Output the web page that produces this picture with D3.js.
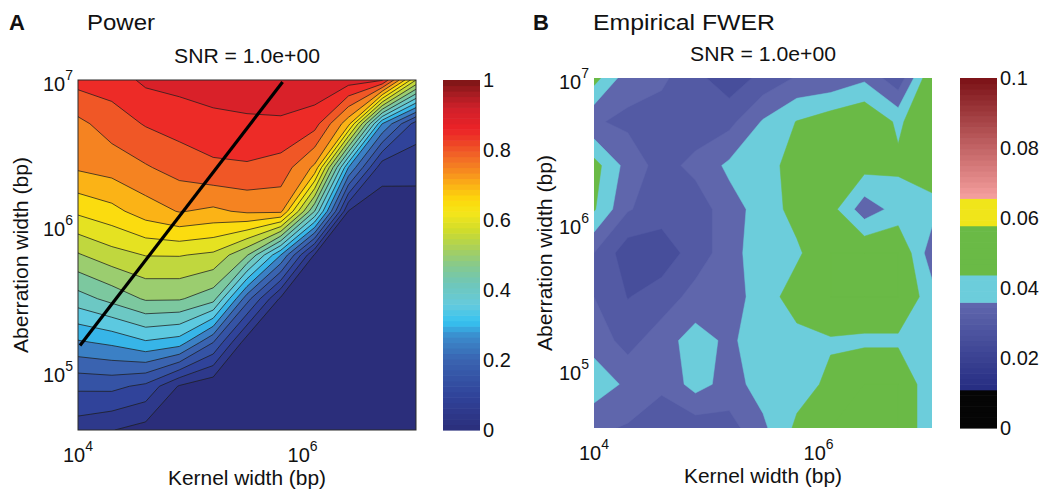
<!DOCTYPE html>
<html><head><meta charset="utf-8">
<script src="https://cdn.jsdelivr.net/npm/d3@7"></script>
<style>body{margin:0;background:#fff}svg{display:block;font-family:"Liberation Sans",Arial,Helvetica,sans-serif}</style>
</head><body><svg id="c" width="1043" height="490"></svg>
<script>
// ---------------- data ----------------
const kernelWidths = [1e4, 2e4, 4e4, 8e4, 1.6e5, 3.2e5, 6.4e5, 1.28e6, 2.56e6, 5.12e6, 1.024e7];
const aberrationWidths = [1e7, 5e6, 2.5e6, 1.25e6, 6.25e5, 3.125e5, 1.5625e5, 7.8125e4, 3.90625e4];
// power: rows = aberration width (top to bottom), cols = kernel width
const powerValues = [
  [0.868,0.875,0.910,0.918,0.935,0.940,0.945,0.940,0.925,0.905,0.600],
  [0.787,0.824,0.854,0.871,0.880,0.888,0.890,0.870,0.720,0.300,0.125],
  [0.757,0.771,0.795,0.820,0.841,0.844,0.830,0.740,0.300,0.065,0.072],
  [0.660,0.684,0.725,0.753,0.740,0.759,0.762,0.450,0.048,0.030,0.020],
  [0.545,0.580,0.602,0.603,0.590,0.505,0.300,0.045,0.010,0.000,0.000],
  [0.428,0.466,0.506,0.505,0.470,0.220,0.040,0.005,0.000,0.000,0.000],
  [0.293,0.310,0.343,0.325,0.200,0.020,0.000,0.000,0.000,0.000,0.000],
  [0.160,0.163,0.138,0.045,0.010,0.000,0.000,0.000,0.000,0.000,0.000],
  [0.072,0.052,0.030,0.005,0.000,0.000,0.000,0.000,0.000,0.000,0.000]
];
const fwerValues = [
  [0.047,0.037,0.036,0.0315,0.027,0.0315,0.0355,0.036,0.039,0.0315,0.050],
  [0.0355,0.034,0.0325,0.032,0.0335,0.0405,0.0452,0.048,0.050,0.044,0.050],
  [0.047,0.038,0.033,0.0365,0.041,0.043,0.047,0.050,0.047,0.046,0.050],
  [0.0455,0.0355,0.032,0.032,0.038,0.042,0.047,0.047,0.037,0.042,0.042],
  [0.035,0.027,0.0275,0.032,0.038,0.043,0.044,0.050,0.050,0.050,0.037],
  [0.035,0.0298,0.032,0.037,0.038,0.042,0.048,0.050,0.050,0.050,0.042],
  [0.038,0.033,0.038,0.042,0.039,0.043,0.043,0.0445,0.044,0.044,0.042],
  [0.043,0.039,0.036,0.042,0.038,0.042,0.043,0.046,0.050,0.050,0.041],
  [0.036,0.0345,0.032,0.032,0.033,0.039,0.046,0.050,0.050,0.050,0.041]
];
const powerLevels = [0.05,0.1,0.15,0.2,0.25,0.3,0.35,0.4,0.45,0.5,0.55,0.6,0.65,0.7,0.75,0.8,0.85,0.9,0.95];
const fwerLevels = [0.02,0.025,0.03,0.035,0.04,0.045,0.05,0.055];
const optimalLine = [[1.042e4, 1.49e5], [6.64e5, 9.69e6]];
const xTicks = [1e4, 1e6];
const yTicks = [1e5, 1e6, 1e7];
const powerBarTicks = [0, 0.2, 0.4, 0.6, 0.8, 1];
const fwerBarTicks = [0, 0.02, 0.04, 0.06, 0.08, 0.1];
const snrTitle = "SNR = 1.0e+00";

// ---------------- colours ----------------
const jetStops = [
  [0.00,"#2b2e7b"],[0.10,"#30439a"],[0.20,"#3a63b0"],[0.27,"#3b8ccd"],[0.31,"#35c3f1"],
  [0.36,"#66cadc"],[0.42,"#6fc7b8"],[0.47,"#85c98e"],[0.52,"#a9d05a"],[0.57,"#cfdc2c"],
  [0.62,"#f4e61a"],[0.66,"#fdd80b"],[0.70,"#fbb316"],[0.74,"#f68b1f"],[0.78,"#f26a26"],
  [0.82,"#ee4426"],[0.86,"#ec2227"],[0.92,"#d0202a"],[0.96,"#a81c22"],[1.00,"#7a1416"]];
const cmapA = d3.scaleLinear().domain(jetStops.map(d=>d[0])).range(jetStops.map(d=>d[1])).interpolate(d3.interpolateRgb).clamp(true);
function cmapB(v){
  if (v < 0.0109) return "#050505";
  if (v < 0.0359) return d3.interpolateRgb("#252c82","#6168ae")((v-0.0109)/0.025);
  if (v < 0.0438) return "#6ccddb";
  if (v < 0.0578) return "#6aba46";
  if (v < 0.0656) return "#f0e51a";
  return d3.interpolateRgb("#f6a09f","#7b1116")((v-0.0656)/0.0344);
}

const svg = d3.select("#c");

function drawPanel(o){
  const x = d3.scaleLog().domain([1e4, 1.024e7]).range([o.left, o.right]);
  const y = d3.scaleLog().domain([3.90625e4, 1e7]).range([o.bottom, o.top]);
  const nx = kernelWidths.length, ny = aberrationWidths.length;
  const gx = d3.scaleLinear().domain([0, nx-1]).range([x(kernelWidths[0]), x(kernelWidths[nx-1])]);
  const gy = d3.scaleLinear().domain([0, ny-1]).range([y(aberrationWidths[0]), y(aberrationWidths[ny-1])]);
  const proj = d3.geoTransform({point(px, py){ this.stream.point(gx(px-0.5), gy(py-0.5)); }});
  const path = d3.geoPath(proj);
  const contours = d3.contours().size([nx, ny]).thresholds(o.levels)(o.values.flat());
  const clipId = "clip" + o.id;
  svg.append("clipPath").attr("id", clipId).append("rect")
    .attr("x", o.left).attr("y", o.top).attr("width", o.right-o.left).attr("height", o.bottom-o.top);
  const g = svg.append("g").attr("clip-path", `url(#${clipId})`);
  g.append("rect").attr("x", o.left).attr("y", o.top).attr("width", o.right-o.left).attr("height", o.bottom-o.top)
    .attr("fill", o.cmap(o.base));
  g.selectAll("path.fill").data(contours).join("path").attr("class","fill")
    .attr("d", path).attr("fill", d => o.cmap(d.value))
    .attr("stroke", o.lines ? "#1e1e1e" : d => o.cmap(d.value))
    .attr("stroke-width", o.lines ? 0.75 : 0.5);
  if (o.extra) o.extra(g, x, y);
  if (o.border) svg.append("rect").attr("x", o.left).attr("y", o.top).attr("width", o.right-o.left).attr("height", o.bottom-o.top)
    .attr("fill","none").attr("stroke","#2a2a2a").attr("stroke-width",1);

  xTicks.forEach(t => {
    const tx = svg.append("text").attr("x", x(t)).attr("y", o.bottom + 32).attr("text-anchor","middle")
      .attr("font-size", 20).attr("fill","#111");
    tx.append("tspan").text("10");
    tx.append("tspan").attr("dy", -11).attr("font-size", 14).text(Math.round(Math.log10(t)));
  });
  yTicks.forEach(t => {
    const ty = svg.append("text").attr("x", o.left - 5).attr("y", y(t) + 11).attr("text-anchor","end")
      .attr("font-size", 20).attr("fill","#111");
    ty.append("tspan").text("10");
    ty.append("tspan").attr("dy", -11).attr("font-size", 14).text(Math.round(Math.log10(t)));
  });
  const cx = (o.left + o.right)/2;
  svg.append("text").attr("x", cx).attr("y", o.bottom + 55).attr("text-anchor","middle")
    .attr("font-size", 20).attr("textLength", 158).attr("lengthAdjust","spacingAndGlyphs").attr("fill","#111").text("Kernel width (bp)");
  svg.append("text").attr("transform", `translate(${o.ylabX},${(o.top+o.bottom)/2}) rotate(-90)`)
    .attr("text-anchor","middle").attr("font-size", 20).attr("textLength", 196).attr("lengthAdjust","spacingAndGlyphs")
    .attr("fill","#111").text("Aberration width (bp)");
  svg.append("text").attr("x", cx).attr("y", o.top - 17).attr("text-anchor","middle")
    .attr("font-size", 20).attr("textLength", 146).attr("lengthAdjust","spacingAndGlyphs").attr("fill","#111").text(snrTitle);
  svg.append("text").attr("x", o.letterX).attr("y", 30).attr("font-size", 22).attr("font-weight","bold").attr("fill","#111").text(o.letter);
  svg.append("text").attr("x", o.titleX).attr("y", 30).attr("font-size", 22).attr("textLength", o.titleLen)
    .attr("lengthAdjust","spacingAndGlyphs").attr("fill","#111").text(o.title);

  const cb = d3.scaleLinear().domain(o.barDomain).range([o.bottom, o.top]);
  const nSteps = 64, step = (o.barDomain[1]-o.barDomain[0])/nSteps;
  const bands = d3.range(nSteps).map(i => o.barDomain[0] + i*step);
  svg.append("g").selectAll("rect").data(bands).join("rect")
    .attr("x", o.barX).attr("width", o.barW)
    .attr("y", d => cb(d+step)).attr("height", d => cb(d) - cb(d+step) + 0.6)
    .attr("fill", d => o.cmap(d + step/2));
  o.barTicks.forEach(t => {
    svg.append("text").attr("x", o.barX + o.barW + 3).attr("y", cb(t) + 7).attr("font-size", 20).attr("fill","#111")
      .text(o.barFmt(t));
  });
}

drawPanel({
  id:"A", left:78, right:416, top:80, bottom:430, values: powerValues, levels: powerLevels, border:true,
  cmap: cmapA, base: 0, lines: true, ylabX: 28, letter:"A", letterX:9, title:"Power", titleX:87, titleLen:68,
  barX:443, barW:37, barDomain:[0,1], barTicks: powerBarTicks, barFmt: d => d===0||d===1 ? String(d) : d.toFixed(1),
  extra: (g, x, y) => {
    g.append("path").datum(optimalLine)
      .attr("d", d3.line().x(d => x(d[0])).y(d => y(d[1])))
      .attr("stroke","#000").attr("stroke-width",3.2).attr("fill","none");
  }
});
drawPanel({
  id:"B", left:594, right:932, top:78, bottom:428, values: fwerValues, levels: fwerLevels, border:false,
  cmap: cmapB, base: 0.02, lines: false, ylabX: 552, letter:"B", letterX:533, title:"Empirical FWER", titleX:593, titleLen:182,
  barX:960, barW:37, barDomain:[0,0.1], barTicks: fwerBarTicks, barFmt: d => d===0 ? "0" : (d===0.1 ? "0.1" : d.toFixed(2))
});
</script></body></html>
